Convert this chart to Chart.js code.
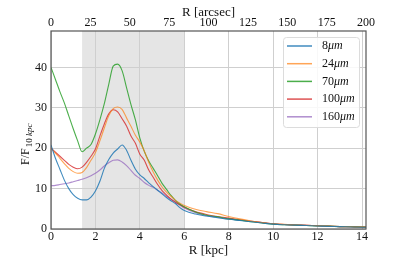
<!DOCTYPE html>
<html>
<head>
<meta charset="utf-8">
<script src="https://cdn.jsdelivr.net/npm/chart.js@4/dist/chart.umd.min.js"></script>
<style>
  html, body { margin: 0; padding: 0; background: #fff; }
  #wrap { width: 407px; height: 262px; }
</style>
</head>
<body>
<div id="wrap"><canvas id="chart" width="407" height="262"></canvas></div>
<script>
// radius in kpc (shared by all bands)
const R = [0, 0.2, 0.4, 0.6, 0.8, 1.0, 1.2, 1.4, 1.6, 1.8, 2.0, 2.2, 2.4, 2.6, 2.8, 3.0, 3.2, 3.4, 3.6, 3.8,
  4.0, 4.2, 4.4, 4.6, 4.8, 5.0, 5.2, 5.4, 5.6, 5.8, 6.0, 6.5, 7.0, 7.5, 8.0, 8.5, 9.0, 9.5, 10, 10.5,
  11, 11.5, 12, 12.5, 13, 13.5, 14, 14.2]

// F / F(10 kpc) for each band
const f8 = [20.8, 17.5, 14.8, 12.1, 10.0, 8.5, 7.6, 7.2, 7.2, 7.9, 9.4, 11.8, 15.0, 17.2, 18.8, 19.8, 20.8, 19.5, 17.0, 14.8,
  13.4, 12.5, 11.4, 10.5, 9.6, 8.7, 7.8, 7.0, 6.3, 5.3, 4.6, 3.7, 3.2, 2.8, 2.4, 2.1, 1.8, 1.5, 1.2, 1.05,
  0.95, 0.85, 0.75, 0.65, 0.6, 0.5, 0.45, 0.4]
const f24 = [20.0, 18.8, 17.5, 16.2, 15.0, 14.2, 13.8, 14.0, 15.2, 17.0, 18.9, 21.8, 25.0, 28.0, 29.8, 30.2, 29.6, 27.5, 25.4, 23.2,
  21.5, 19.3, 16.5, 14.1, 12.1, 10.4, 9.1, 8.1, 7.1, 6.4, 5.8, 4.9, 4.3, 3.8, 3.1, 2.5, 2.0, 1.6, 1.3, 1.15,
  1.0, 0.9, 0.8, 0.7, 0.6, 0.55, 0.5, 0.45]
const f70 = [40.0, 37.0, 34.0, 31.2, 28.0, 24.8, 21.8, 19.1, 20.0, 20.9, 23.5, 27.0, 31.0, 35.8, 40.3, 40.8, 39.2, 35.0, 30.8, 27.0,
  22.5, 19.2, 16.8, 15.0, 13.2, 11.3, 9.8, 8.3, 7.1, 6.2, 5.5, 4.2, 3.4, 3.0, 2.5, 2.2, 1.8, 1.5, 1.2, 1.05,
  0.95, 0.85, 0.75, 0.7, 0.6, 0.55, 0.5, 0.45]
const f100 = [20.0, 19.0, 18.0, 17.0, 16.0, 15.3, 14.9, 15.3, 16.5, 18.0, 19.8, 23.0, 26.0, 28.5, 29.5, 29.0, 27.3, 25.5, 23.0, 21.2,
  18.5, 17.0, 14.6, 12.8, 11.0, 9.5, 8.4, 7.4, 6.6, 6.0, 5.4, 4.3, 3.6, 3.1, 2.7, 2.3, 1.9, 1.6, 1.3, 1.1,
  1.0, 0.9, 0.8, 0.7, 0.6, 0.55, 0.5, 0.45]
const f160 = [10.7, 10.8, 11.0, 11.2, 11.4, 11.7, 12.0, 12.3, 12.7, 13.2, 13.8, 14.6, 15.6, 16.4, 17.0, 17.1, 16.6, 15.7, 14.5, 13.3,
  12.5, 11.5, 10.8, 10.3, 9.6, 8.9, 8.1, 7.4, 6.7, 5.9, 5.2, 4.0, 3.3, 2.9, 2.5, 2.2, 1.9, 1.6, 1.3, 1.1,
  1.0, 0.9, 0.8, 0.7, 0.6, 0.55, 0.5, 0.45]

const bands = ['8', '24', '70', '100', '160']
const colors = ['rgba(31,119,180,0.85)', 'rgba(255,127,14,0.7)', 'rgba(44,160,44,0.85)', 'rgba(214,39,40,0.8)', 'rgba(148,103,189,0.75)']
const series = [f8, f24, f70, f100, f160]

// shaded band (kpc)
const shadeFrom = 1.4
const shadeTo = 6

const serif = "'Liberation Serif', 'DejaVu Serif', serif"

const backgroundAndShade = {
  id: 'shade',
  beforeDraw(chart) {
    const {ctx, chartArea: a, scales} = chart
    ctx.save()
    ctx.fillStyle = '#fff'
    ctx.fillRect(0, 0, chart.width, chart.height)
    const x0 = scales.x.getPixelForValue(shadeFrom)
    const x1 = scales.x.getPixelForValue(shadeTo)
    ctx.fillStyle = '#e5e5e5'
    ctx.fillRect(x0, a.top, x1 - x0, a.bottom - a.top)
    ctx.restore()
  }
}

// frame, y label with subscript, legend box
const extras = {
  id: 'extras',
  afterDraw(chart) {
    const {ctx, chartArea: a} = chart
    ctx.save()
    ctx.strokeStyle = '#555'
    ctx.lineWidth = 1.2
    ctx.strokeRect(a.left, a.top, a.right - a.left, a.bottom - a.top)

    // y title
    ctx.translate(26, 165)
    ctx.rotate(-Math.PI / 2)
    ctx.fillStyle = '#111'
    ctx.textBaseline = 'middle'
    ctx.textAlign = 'left'
    ctx.font = '12px ' + serif
    ctx.fillText('F/F', 0, 0)
    let w = ctx.measureText('F/F').width + 1
    ctx.font = '9px ' + serif
    ctx.fillText('10 ', w, 3.5)
    w += ctx.measureText('10 ').width
    ctx.font = 'italic 9px ' + serif
    ctx.fillText('kpc', w, 3.5)
    ctx.restore()

    // legend
    ctx.save()
    ctx.beginPath()
    ctx.roundRect(283.5, 37.5, 76, 90, 3)
    ctx.fillStyle = 'rgba(255,255,255,0.85)'
    ctx.fill()
    ctx.strokeStyle = '#dcdcdc'
    ctx.lineWidth = 1
    ctx.stroke()
    ctx.textBaseline = 'middle'
    bands.forEach((b, i) => {
      const y = 46 + i * 17.7
      ctx.strokeStyle = colors[i]
      ctx.lineWidth = 1.5
      ctx.beginPath()
      ctx.moveTo(287, y)
      ctx.lineTo(312, y)
      ctx.stroke()
      ctx.fillStyle = '#111'
      ctx.font = '12px ' + serif
      ctx.fillText(b, 322, y)
      const bw = ctx.measureText(b).width
      ctx.font = 'italic 12px ' + serif
      ctx.fillText('\u03bcm', 322 + bw, y)
    })
    ctx.restore()
  }
}

new Chart(document.getElementById('chart'), {
  type: 'line',
  data: {
    datasets: series.map((s, i) => ({
      label: bands[i] + 'μm',
      data: R.map((r, j) => ({x: r, y: s[j]})),
      borderColor: colors[i],
      borderWidth: 1.1,
      pointRadius: 0,
      cubicInterpolationMode: 'monotone',
      fill: false
    }))
  },
  options: {
    responsive: false,
    animation: false,
    events: [],
    layout: {padding: {left: 0, right: 41, top: 0, bottom: 0}},
    plugins: {legend: {display: false}, tooltip: {enabled: false}},
    scales: {
      x: {
        type: 'linear',
        position: 'bottom',
        min: 0,
        max: 14.18,
        afterFit: (s) => { s.height = 33 },
        ticks: {stepSize: 2, includeBounds: false, padding: 1, color: '#111', font: {family: serif, size: 12}},
        grid: {color: '#cfcfcf', lineWidth: 1, drawTicks: false},
        border: {display: false},
        title: {display: true, text: 'R [kpc]', color: '#111', font: {family: serif, size: 13}, padding: {top: 0, bottom: 4}}
      },
      x2: {
        type: 'linear',
        position: 'top',
        min: 0,
        max: 200,
        afterFit: (s) => { s.height = 31 },
        ticks: {stepSize: 25, includeBounds: false, padding: 1, color: '#111', font: {family: serif, size: 12}},
        grid: {drawOnChartArea: false, drawTicks: false},
        border: {display: false},
        title: {display: true, text: 'R [arcsec]', color: '#111', font: {family: serif, size: 13}, padding: {top: 5, bottom: 0}}
      },
      y: {
        min: 0,
        max: 49,
        afterFit: (s) => { s.width = 51 },
        ticks: {stepSize: 10, includeBounds: false, padding: 4, color: '#111', font: {family: serif, size: 12}},
        grid: {color: '#cfcfcf', lineWidth: 1, drawTicks: false},
        border: {display: false}
      }
    }
  },
  plugins: [backgroundAndShade, extras]
})
</script>
</body>
</html>
